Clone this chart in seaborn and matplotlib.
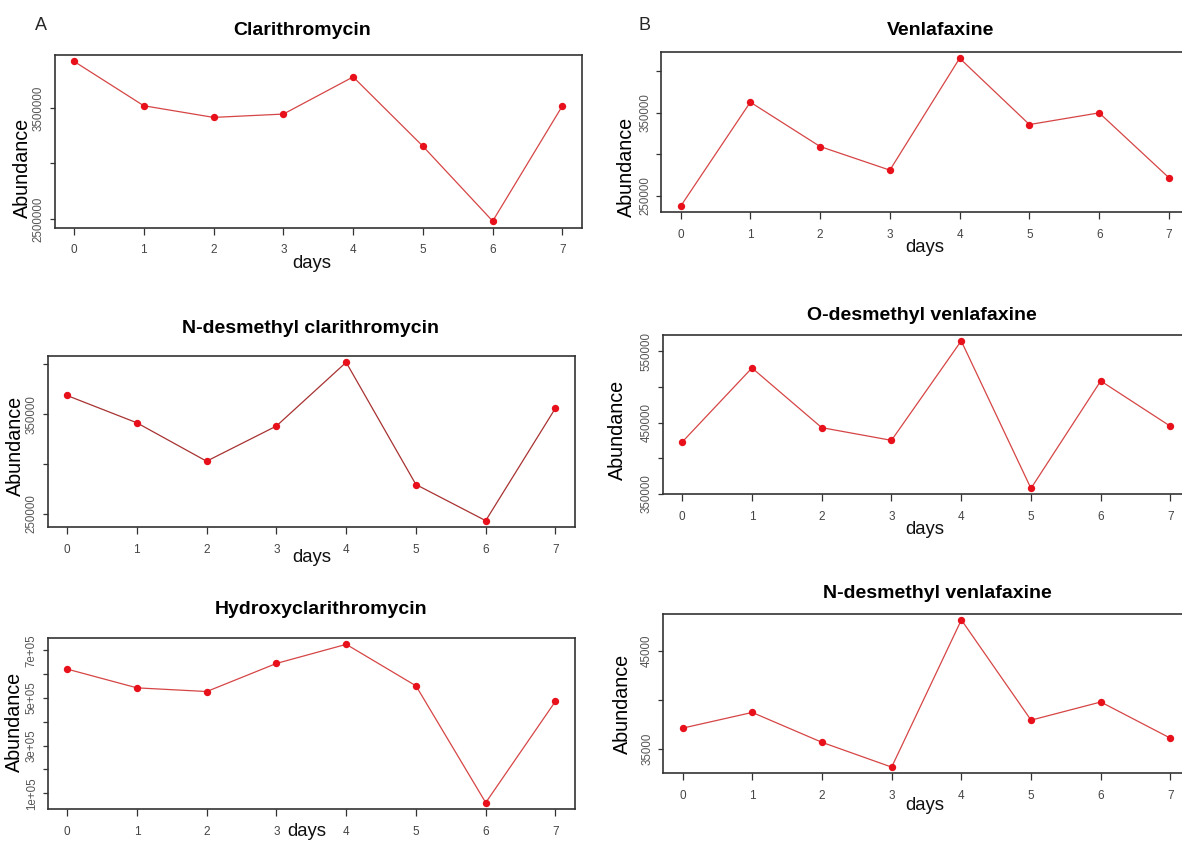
import numpy as np
import pandas as pd
import seaborn as sns
import matplotlib.pyplot as plt
from matplotlib import font_manager as fm

# --- Data ---
days = [0, 1, 2, 3, 4, 5, 6, 7]

clarithromycin = [3920000, 3520000, 3415000, 3445000, 3780000, 3155000, 2480000, 3520000]
n_desmethyl_clarithromycin = [368700, 341300, 302700, 338000, 402000, 279300, 243000, 356000]
hydroxyclarithromycin = [621300, 542600, 527200, 645200, 725300, 551100, 60700, 486400]
venlafaxine = [237200, 362900, 309400, 280900, 415900, 335900, 350000, 271700]
o_desmethyl_venlafaxine = [422900, 526600, 443000, 425200, 564500, 357900, 508400, 444900]
n_desmethyl_venlafaxine = [37100, 38710, 35650, 33110, 48190, 37920, 39780, 36070]

titles = ["Clarithromycin", "N-desmethyl clarithromycin", "Hydroxyclarithromycin",
          "Venlafaxine", "O-desmethyl venlafaxine", "N-desmethyl venlafaxine"]

yticks_clar = [2500000, 3000000, 3500000]
ylabels_clar = ["2500000", "", "3500000"]
yticks_ndclar = [250000, 300000, 350000, 400000]
ylabels_ndclar = ["250000", "", "350000", ""]
yticks_hydroxy = [100000, 200000, 300000, 400000, 500000, 600000, 700000]
ylabels_hydroxy = ["1e+05", "", "3e+05", "", "5e+05", "", "7e+05"]
yticks_venla = [250000, 300000, 350000, 400000]
ylabels_venla = ["250000", "", "350000", ""]
yticks_odv = [350000, 400000, 450000, 500000, 550000]
ylabels_odv = ["350000", "", "450000", "", "550000"]
yticks_ndv = [35000, 40000, 45000]
ylabels_ndv = ["35000", "", "45000"]

# --- Layout (pixels in a 1182x843 canvas) ---
W, H = 1182, 843
# box: left, top, right, bottom ; title (x, baseline y) ; ylabel (x, y) ; days (x, y)
layout = [
    dict(box=(54.5, 55, 582, 227.5), title=(302, 35), ylab=(22, 168), xlab=(312, 263)),
    dict(box=(47.5, 356, 575, 527), title=(311, 333), ylab=(15, 446), xlab=(312, 558)),
    dict(box=(47.7, 638, 575, 809), title=(321, 614), ylab=(14, 722), xlab=(307, 831)),
    dict(box=(661, 52.3, 1188.5, 212.3), title=(941, 35), ylab=(626, 167), xlab=(925, 248)),
    dict(box=(662.7, 335, 1190, 494.3), title=(922, 320), ylab=(617, 430), xlab=(925, 530)),
    dict(box=(663, 614, 1190, 773), title=(937, 598), ylab=(622, 704), xlab=(925, 805)),
]

series = [clarithromycin, n_desmethyl_clarithromycin, hydroxyclarithromycin,
          venlafaxine, o_desmethyl_venlafaxine, n_desmethyl_venlafaxine]
yticks = [yticks_clar, yticks_ndclar, yticks_hydroxy, yticks_venla, yticks_odv, yticks_ndv]
ylabels = [ylabels_clar, ylabels_ndclar, ylabels_hydroxy, ylabels_venla, ylabels_odv, ylabels_ndv]
line_colors = ["#d64545", "#a83232", "#d64545", "#d64545", "#d64545", "#d64545"]

sns.set_theme(style="ticks")
installed = {f.name for f in fm.fontManager.ttflist}
has_narrow = "Liberation Sans Narrow" in installed
NARROW = "Liberation Sans Narrow" if has_narrow else "Liberation Sans"
title_size = 16 if has_narrow else 14
days_size = 14.5 if has_narrow else 13.3
plt.rcParams["font.family"] = ["Liberation Sans", "DejaVu Sans"]

fig = plt.figure(figsize=(W / 100, H / 100), dpi=100)
fig.patch.set_facecolor("white")

for i, (vals, lay) in enumerate(zip(series, layout)):
    l, t, r, b = lay["box"]
    ax = fig.add_axes([l / W, 1 - b / H, (r - l) / W, (b - t) / H])
    df = pd.DataFrame({"day": days, "abundance": vals})
    sns.lineplot(data=df, x="day", y="abundance", ax=ax, color=line_colors[i],
                 linewidth=0.9, marker="o", markersize=5.3,
                 markerfacecolor="#e8101a", markeredgecolor="#e8101a", markeredgewidth=0)
    ax.margins(x=0.04, y=0.04)
    ax.set_xticks(days)
    ax.set_xticklabels([str(d) for d in days], fontsize=8.5, color="#444444", family=NARROW)
    ax.set_yticks(yticks[i])
    ax.set_yticklabels(ylabels[i], rotation=90, va="center", fontsize=8.3, color="#555555")
    ax.tick_params(axis="x", length=5, width=0.9, pad=7, color="#333333")
    ax.tick_params(axis="y", length=3.6, width=0.9, pad=3.5, color="#333333")
    ax.set_xlabel("")
    ax.set_ylabel("")
    for s in ax.spines.values():
        s.set_visible(True)
        s.set_color("#333333")
        s.set_linewidth(1.2)

    tx, ty = lay["title"]
    fig.text(tx / W, 1 - ty / H, titles[i], ha="center", va="baseline",
             fontsize=title_size, fontweight="bold", family=NARROW, color="black")
    yx, yy = lay["ylab"]
    fig.text(yx / W, 1 - yy / H, "Abundance", rotation=90, ha="center", va="center",
             fontsize=14.2, color="black")
    dx, dy = lay["xlab"]
    fig.text(dx / W, 1 - dy / H, "days", ha="center", va="center",
             fontsize=days_size, family=NARROW, color="#111111")

fig.text(41 / W, 1 - 25 / H, "A", ha="center", va="center", fontsize=13, family=NARROW)
fig.text(644 / W, 1 - 25 / H, "B", ha="center", va="center", fontsize=13, family=NARROW)

fig.savefig("out.png", dpi=100, facecolor="white")
